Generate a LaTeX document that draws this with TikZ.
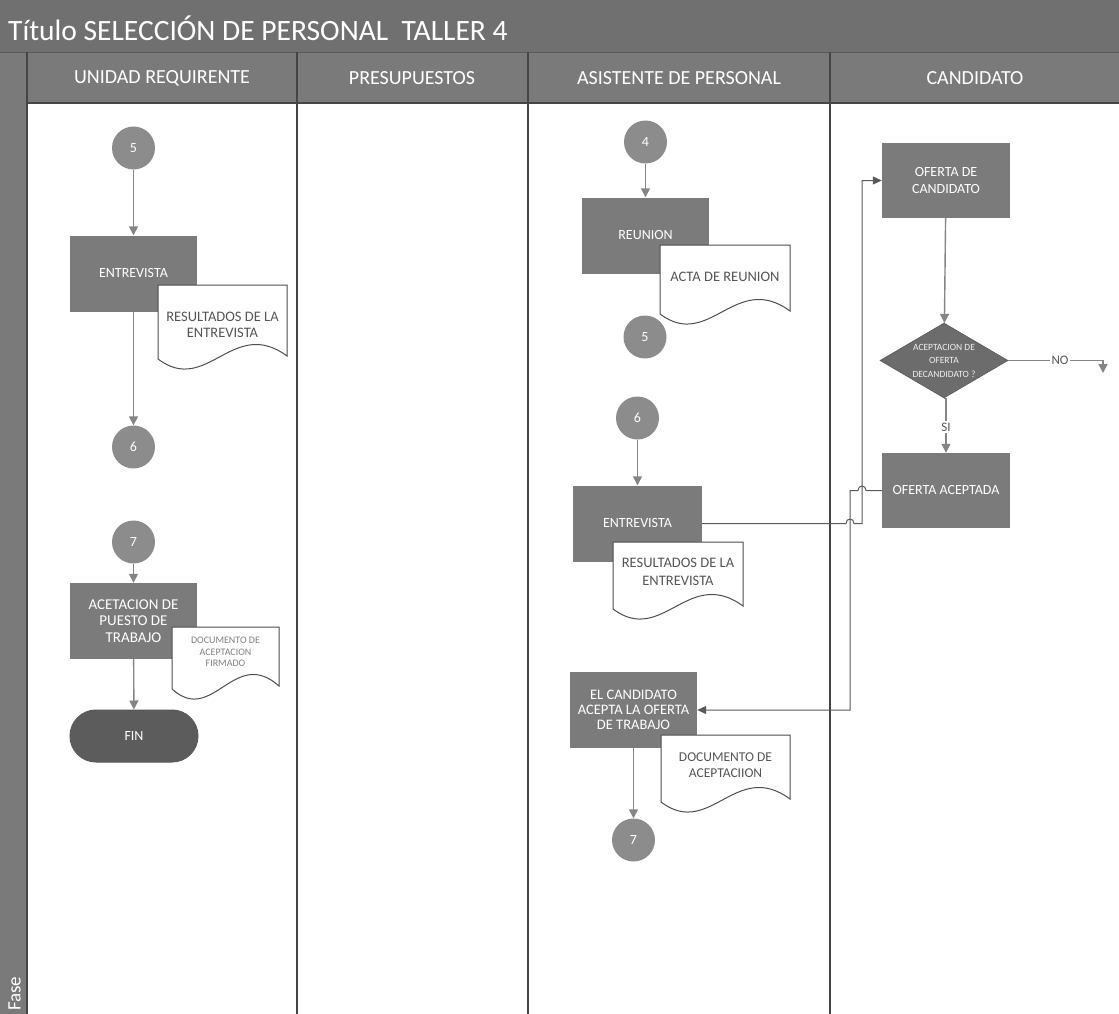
\documentclass[tikz,border=0pt]{standalone}
\usepackage{fontspec}
\setmainfont{Carlito}
\usetikzlibrary{shapes.geometric,arrows.meta}

\definecolor{bargray}{HTML}{707070}
\definecolor{headgray}{HTML}{7A7A7A}
\definecolor{boxgray}{HTML}{7B7B7B}
\definecolor{circgray}{HTML}{8C8C8C}
\definecolor{fingray}{HTML}{5C5C5C}
\definecolor{diagray}{HTML}{6C6C6C}
\definecolor{linegray}{HTML}{858585}
\definecolor{crossgray}{HTML}{5A5A5A}
\definecolor{lanegray}{HTML}{454545}
\definecolor{doctext}{HTML}{555555}
\definecolor{docline}{HTML}{4E4E4E}

\newcommand\myfs[2]{\fontsize{#1}{#2}\selectfont}
% document symbol: left, top, right, bottom (corner level of the wavy edge)
\newcommand\docpath[4]{%
  \path[fill=white, draw=docline, line width=1pt]
    (#1,#2) -- (#3,#2) -- (#3,#4)
    .. controls ({#3-0.42*(#3-#1)},{#4-40}) and ({#1+0.38*(#3-#1)},{#4+40}) .. (#1,{#4+3}) -- cycle;}

\begin{document}
\begin{tikzpicture}[x=1pt,y=-1pt,
  proc/.style={rectangle, fill=boxgray, minimum width=127pt, minimum height=76pt,
    inner sep=1pt, text=white, align=center, font=\myfs{14}{16.5}},
  conn/.style={circle, fill=circgray, minimum size=43pt, inner sep=0pt,
    text=white, font=\myfs{14}{16}},
  doctxt/.style={text=doctext, align=center, inner sep=0pt, font=\myfs{14.5}{16.5}},
  flow/.style={draw=linegray, line width=1.4pt, -{Triangle[length=9pt,width=9pt]}},
  cross/.style={draw=crossgray, line width=1pt, -{Triangle[length=9pt,width=8pt]}},
  lane/.style={draw=lanegray, line width=1.2pt},
  head/.style={text=white, font=\myfs{20}{23}},
  tag/.style={fill=white, text=doctext, inner sep=1.5pt, font=\myfs{13}{15}}
]
\useasboundingbox (0,0) rectangle (1119,1014);
\fill[white] (0,0) rectangle (1119,1014);

% title bar, lane headers and phase band
\fill[bargray] (0,0) rectangle (1119,52);
\fill[headgray] (27,52) rectangle (1119,103);
\fill[headgray] (0,52) rectangle (27,1014);
\draw[crossgray, line width=0.8pt] (0,52) -- (1119,52);
\draw[lane] (27,103) -- (1119,103);
\draw[lane] (27,52) -- (27,1014);
\draw[lane] (297,52) -- (297,1014);
\draw[lane] (528,52) -- (528,1014);
\draw[lane] (830,52) -- (830,1014);

\node[anchor=west, text=white, font=\myfs{29.5}{33}, inner sep=0pt] (title) at (8,28)
  {Título SELECCIÓN DE PERSONAL\ \ TALLER 4};
\node[head] (h1) at (162,78) {UNIDAD REQUIRENTE};
\node[head] (h2) at (412,78) {PRESUPUESTOS};
\node[head] (h3) at (679,78) {ASISTENTE DE PERSONAL};
\node[head] (h4) at (975,78) {CANDIDATO};
\node[rotate=90, anchor=west, text=white, font=\myfs{19}{21}, inner sep=0pt] (fase) at (14.5,1011) {Fase};

% ---- UNIDAD REQUIRENTE ----
\node[conn] (u5) at (133.5,148) {5};
\node[proc] (u1) at (133.5,273.5) {ENTREVISTA};
\docpath{158}{285}{287}{356}
\node[doctxt] (ud1) at (222.5,325) {RESULTADOS DE LA\\ENTREVISTA};
\node[conn] (u6) at (133.5,447) {6};
\node[conn] (u7) at (133.5,542) {7};
\node[proc, font=\myfs{15}{16.5}] (u2) at (133.5,621) {ACETACION DE\\PUESTO DE\\TRABAJO};
\docpath{172}{627}{279}{686}
\node[doctxt, text=gray, font=\myfs{10}{11.5}] (ud2) at (225.5,652) {DOCUMENTO DE\\ACEPTACION\\FIRMADO};
\node[rectangle, rounded corners=26pt, fill=fingray, draw=crossgray, line width=1pt,
  minimum width=128pt, minimum height=52pt, text=white, font=\myfs{14}{16}] (fin) at (134,736) {FIN};

\draw[flow] (u5) -- (u1);
\draw[flow] (u1) -- (u6);
\draw[flow] (u7) -- (u2);
\draw[flow] (u2) -- (fin);

% ---- ASISTENTE DE PERSONAL ----
\node[conn] (a4) at (645.5,142) {4};
\node[proc] (a1) at (645.5,235.5) {REUNION};
\docpath{660}{245}{790}{311}
\node[doctxt] (ad1) at (725,277) {ACTA DE REUNION};
\node[conn] (a5) at (645,337) {5};
\node[conn] (a6) at (637.5,418) {6};
\node[proc, minimum width=129pt] (a2) at (637.5,523.5) {ENTREVISTA};
\docpath{613}{542}{743}{606}
\node[doctxt, font=\myfs{14.5}{18}] (ad2) at (678,572) {RESULTADOS DE LA\\ENTREVISTA};
\node[proc, font=\myfs{14.5}{15}] (a3) at (633.5,710) {EL CANDIDATO\\ACEPTA LA OFERTA\\DE TRABAJO};
\docpath{661}{735}{790}{799}
\node[doctxt, font=\myfs{13.5}{15.5}] (ad3) at (725.5,765) {DOCUMENTO DE\\ACEPTACIION};
\node[conn] (a7) at (633.5,840) {7};

\draw[flow] (a4) -- (a1);
\draw[flow] (a6) -- (a2);
\draw[flow] (a3) -- (a7);

% ---- CANDIDATO ----
\node[proc, minimum width=128pt, minimum height=75pt, font=\myfs{14}{17}] (c1) at (946,180.5) {OFERTA DE\\CANDIDATO};
\node[diamond, aspect=1.7, fill=diagray, draw=crossgray, line width=0.6pt, inner sep=0pt,
  minimum width=128pt, minimum height=75pt, text=white!88!gray, align=center,
  font=\myfs{9.5}{13.5}] (q1) at (944,360.5) {ACEPTACION DE\\OFERTA\\DECANDIDATO ?};
\node[proc, minimum width=128pt, minimum height=75pt] (c2) at (946,490.5) {OFERTA ACEPTADA};
\coordinate (noend) at (1103,373);

\draw[flow] (c1) -- (q1);
\draw[flow] (q1.south) -- (q1.south -| c2.north) -- (c2.north);
\node[tag] (si) at (946,427) {SI};
\draw[flow] (q1.east) -- (noend |- q1.east) -- (noend);
\node[tag] (no) at (1060,360.5) {NO};

% ---- connectors between lanes (with line hops) ----
\draw[cross] (a2.east) -- (846,523.5)
  .. controls (846,517.5) and (854,517.5) .. (854,523.5)
  -- (862,523.5) -- (862,180.5) -- (c1.west);
\draw[cross] (c2.west) -- (866,490.5)
  .. controls (866,484.5) and (858,484.5) .. (858,490.5)
  -- (850,490.5) -- (850,710) -- (a3.east);
\end{tikzpicture}
\end{document}
